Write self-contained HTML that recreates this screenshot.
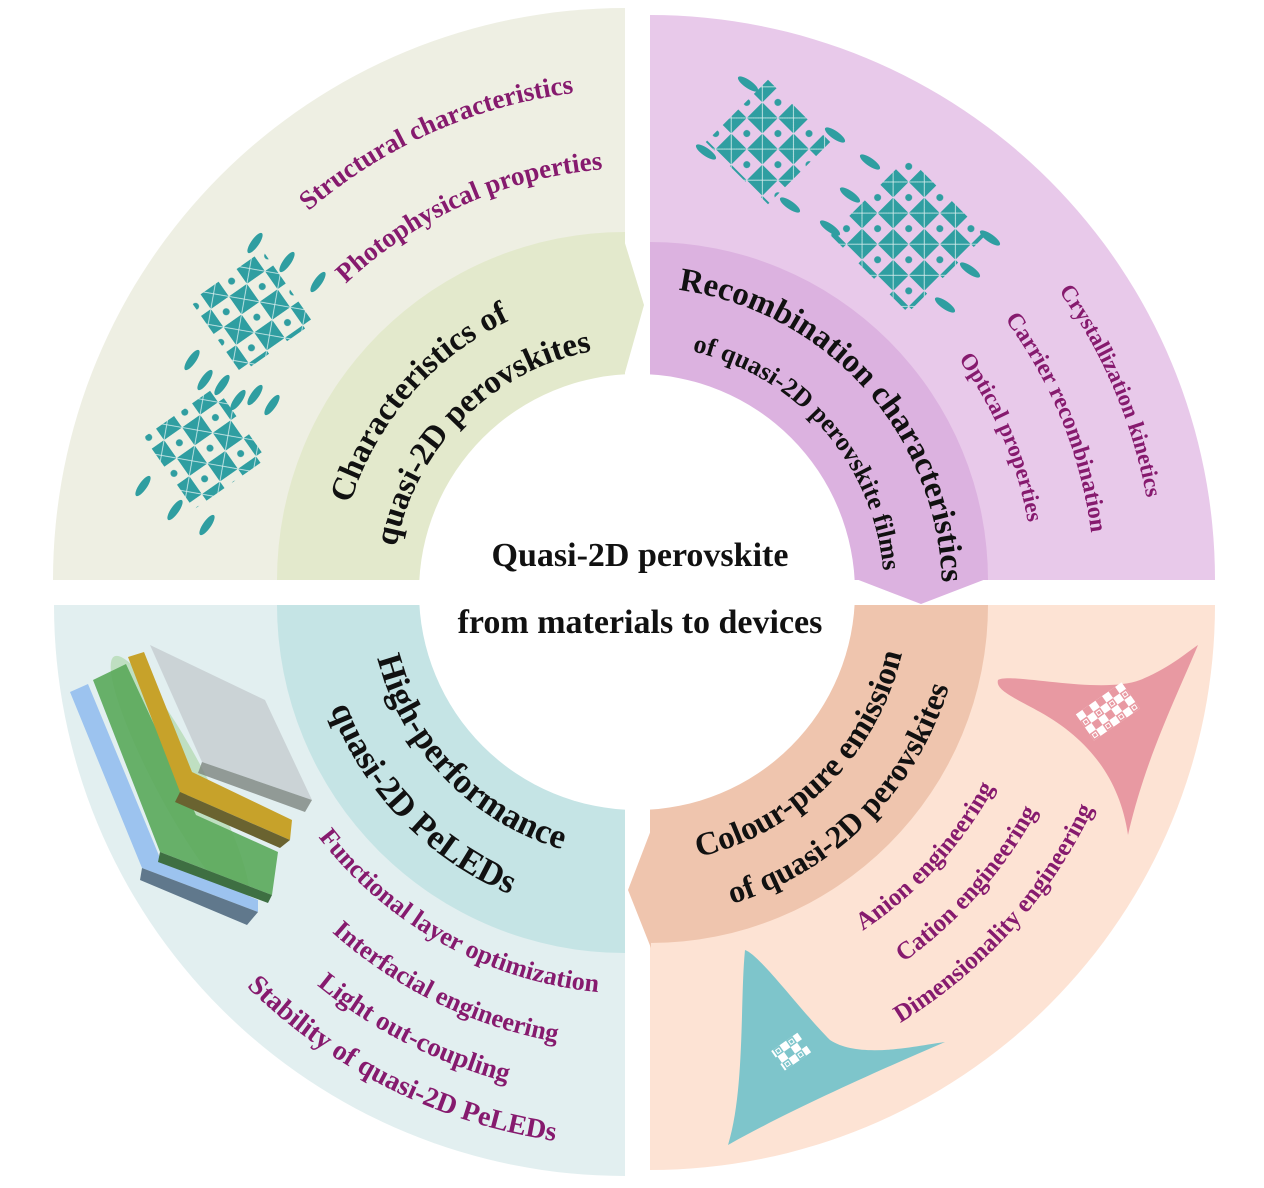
<!DOCTYPE html>
<html><head><meta charset="utf-8"><style>
html,body{margin:0;padding:0;background:#fff;}
svg{display:block;}
.k{font-family:"Liberation Serif",serif;font-weight:bold;fill:#111;}
.p{font-family:"Liberation Serif",serif;font-weight:bold;fill:#861a6e;}
</style></head><body>
<svg width="1264" height="1188" viewBox="0 0 1264 1188" xmlns="http://www.w3.org/2000/svg">
<defs>
<pattern id="pat" width="44" height="44" patternUnits="userSpaceOnUse">
 <rect x="0" y="0" width="22" height="22" fill="#2f9ea1"/>
 <rect x="22" y="22" width="22" height="22" fill="#2f9ea1"/>
 <path d="M0 0L22 22M22 0L0 22M22 22L44 44M44 22L22 44" stroke="#d8eeee" stroke-width="0.8"/>
 <circle cx="33" cy="11" r="3.5" fill="#2f9ea1"/>
 <circle cx="11" cy="33" r="3.5" fill="#2f9ea1"/>
</pattern>
<pattern id="patw" width="16" height="16" patternUnits="userSpaceOnUse">
 <rect x="0" y="0" width="8" height="8" fill="#fff"/>
 <rect x="8" y="8" width="8" height="8" fill="#fff"/>
 <rect x="10" y="2" width="4" height="4" fill="none" stroke="#fff" stroke-width="1"/>
</pattern>
<path id="c245" d="M392 592A245 245 0 1 1 882 592A245 245 0 1 1 392 592"/>
<path id="c247" d="M390 592A247 247 0 1 1 884 592A247 247 0 1 1 390 592"/>
<path id="c300" d="M337 592A300 300 0 1 1 937 592A300 300 0 1 1 337 592"/>
<path id="c305" d="M332 592A305 305 0 1 1 942 592A305 305 0 1 1 332 592"/>
<path id="c397" d="M240 592A397 397 0 1 1 1034 592A397 397 0 1 1 240 592"/>
<path id="c424" d="M213 592A424 424 0 1 1 1061 592A424 424 0 1 1 213 592"/>
<path id="c458" d="M179 592A458 458 0 1 1 1095 592A458 458 0 1 1 179 592"/>
<path id="c503" d="M134 592A503 503 0 1 1 1140 592A503 503 0 1 1 134 592"/>
<path id="c518" d="M119 592A518 518 0 1 1 1155 592A518 518 0 1 1 119 592"/>
<path id="d268" d="M369 592A268 268 0 1 0 905 592A268 268 0 1 0 369 592"/>
<path id="d272" d="M365 592A272 272 0 1 0 909 592A272 272 0 1 0 365 592"/>
<path id="d326" d="M311 592A326 326 0 1 0 963 592A326 326 0 1 0 311 592"/>
<path id="d328" d="M309 592A328 328 0 1 0 965 592A328 328 0 1 0 309 592"/>
<path id="d402" d="M235 592A402 402 0 1 0 1039 592A402 402 0 1 0 235 592"/>
<path id="d407" d="M230 592A407 407 0 1 0 1044 592A407 407 0 1 0 230 592"/>
<path id="d456" d="M181 592A456 456 0 1 0 1093 592A456 456 0 1 0 181 592"/>
<path id="d457" d="M180 592A457 457 0 1 0 1094 592A457 457 0 1 0 180 592"/>
<path id="d505" d="M132 592A505 505 0 1 0 1142 592A505 505 0 1 0 132 592"/>
<path id="d507" d="M130 592A507 507 0 1 0 1144 592A507 507 0 1 0 130 592"/>
<path id="d555" d="M82 592A555 555 0 1 0 1192 592A555 555 0 1 0 82 592"/>
</defs>

<path d="M625 580L53 580A572 572 0 0 1 625 8Z" fill="#eeefe3"/>
<path d="M650 580L650 15A565 565 0 0 1 1215 580Z" fill="#e8c9ea"/>
<path d="M625 605L625 1176A571 571 0 0 1 54 605Z" fill="#e2eff0"/>
<path d="M650 605L1215 605A565 565 0 0 1 650 1170Z" fill="#fde3d4"/>

<path d="M625 580L277 580A348 348 0 0 1 625 232Z" fill="#e3e9cc"/>
<polygon points="624,240 644,305 624,376" fill="#e3e9cc"/>
<path d="M650 580L650 242A338 338 0 0 1 988 580Z" fill="#dcb2e0"/>
<polygon points="856,579 986,579 921,604" fill="#dcb2e0"/>
<path d="M625 605L625 953A348 348 0 0 1 277 605Z" fill="#c5e4e5"/>
<path d="M650 605L988 605A338 338 0 0 1 650 943Z" fill="#efc5ae"/>
<polygon points="651,830 628,890 651,948" fill="#efc5ae"/>

<circle cx="637" cy="592" r="218" fill="#fff"/>
<text class="k" x="640" y="566" font-size="34" text-anchor="middle">Quasi-2D perovskite</text>
<text class="k" x="640" y="633" font-size="34" text-anchor="middle">from materials to devices</text>

<g transform="rotate(-35 252 312)"><rect x="208" y="268" width="88" height="88" fill="url(#pat)"/></g>
<g transform="rotate(-35 205 448)"><rect x="161" y="404" width="88" height="88" fill="url(#pat)"/></g>
<g fill="#2f9ea1">
<ellipse cx="255" cy="243" rx="4" ry="12" transform="rotate(35 255 243)"/>
<ellipse cx="287" cy="262" rx="4" ry="12" transform="rotate(35 287 262)"/>
<ellipse cx="318" cy="282" rx="4" ry="12" transform="rotate(35 318 282)"/>
<ellipse cx="192" cy="360" rx="4" ry="12" transform="rotate(35 192 360)"/>
<ellipse cx="205" cy="380" rx="4" ry="12" transform="rotate(35 205 380)"/>
<ellipse cx="222" cy="385" rx="4" ry="12" transform="rotate(35 222 385)"/>
<ellipse cx="238" cy="400" rx="4" ry="12" transform="rotate(35 238 400)"/>
<ellipse cx="255" cy="395" rx="4" ry="12" transform="rotate(35 255 395)"/>
<ellipse cx="272" cy="405" rx="4" ry="12" transform="rotate(35 272 405)"/>
<ellipse cx="143" cy="486" rx="4" ry="12" transform="rotate(35 143 486)"/>
<ellipse cx="175" cy="510" rx="4" ry="12" transform="rotate(35 175 510)"/>
<ellipse cx="207" cy="525" rx="4" ry="12" transform="rotate(35 207 525)"/>
</g>

<g transform="rotate(-45 768 142)"><rect x="724" y="98" width="88" height="88" fill="url(#pat)"/></g>
<g transform="rotate(-45 908 235)"><rect x="853" y="180" width="110" height="110" fill="url(#pat)"/></g>
<g fill="#2f9ea1">
<ellipse cx="748" cy="84" rx="12" ry="4" transform="rotate(35 748 84)"/>
<ellipse cx="706" cy="152" rx="12" ry="4" transform="rotate(35 706 152)"/>
<ellipse cx="835" cy="135" rx="12" ry="4" transform="rotate(35 835 135)"/>
<ellipse cx="870" cy="162" rx="12" ry="4" transform="rotate(35 870 162)"/>
<ellipse cx="790" cy="205" rx="12" ry="4" transform="rotate(35 790 205)"/>
<ellipse cx="830" cy="228" rx="12" ry="4" transform="rotate(35 830 228)"/>
<ellipse cx="850" cy="195" rx="12" ry="4" transform="rotate(35 850 195)"/>
<ellipse cx="990" cy="238" rx="12" ry="4" transform="rotate(35 990 238)"/>
<ellipse cx="970" cy="270" rx="12" ry="4" transform="rotate(35 970 270)"/>
<ellipse cx="945" cy="305" rx="12" ry="4" transform="rotate(35 945 305)"/>
</g>

<ellipse cx="180" cy="780" rx="25" ry="140" fill="#7fc46b" opacity="0.35" transform="rotate(-28 180 780)"/>
<polygon points="70,692 88,684 160,858 258,900 258,912 142,868" fill="#9cc3ef"/>
<polygon points="142,868 258,912 247,925 140,880" fill="#60788c"/>
<polygon points="93,680 126,664 196,815 278,852 272,895 160,852" fill="#5aa85a" opacity="0.9"/>
<polygon points="160,852 272,895 268,903 158,862" fill="#3e6f42"/>
<polygon points="128,657 144,652 192,772 292,820 290,840 180,792" fill="#c7a22a"/>
<polygon points="180,792 290,840 280,848 175,802" fill="#6a6330"/>
<polygon points="150,645 265,700 312,800 202,762" fill="#c3c9cd" opacity="0.75"/>
<polygon points="202,762 312,800 305,812 198,773" fill="#7d8580" opacity="0.8"/>

<path d="M998 680C1010 672 1100 695 1140 680C1170 668 1190 650 1198 645C1175 700 1145 760 1128 835C1120 780 1090 740 1040 712C1015 698 995 690 998 680Z" fill="#e899a2"/>
<g transform="rotate(-35 1107 712)"><rect x="1080" y="696" width="56" height="32" fill="url(#patw)"/></g>
<path d="M745 950C760 955 800 1010 830 1040C860 1060 920 1045 945 1042C880 1070 790 1110 728 1145C745 1090 740 1000 745 950Z" fill="#7ec5cb"/>
<g transform="rotate(-35 790 1050)"><rect x="774" y="1040" width="32" height="24" fill="url(#patw)"/></g>

<g transform="rotate(-49 637 592)"><text class="k" font-size="33"><textPath href="#c300" startOffset="25%" text-anchor="middle">Characteristics of</textPath></text></g>
<g transform="rotate(-45 637 592)"><text class="k" font-size="33"><textPath href="#c245" startOffset="25%" text-anchor="middle">quasi-2D perovskites</textPath></text></g>
<g transform="rotate(-24 637 592)"><text class="p" font-size="27"><textPath href="#c503" startOffset="25%" text-anchor="middle">Structural characteristics</textPath></text></g>
<g transform="rotate(-24 637 592)"><text class="p" font-size="27"><textPath href="#c424" startOffset="25%" text-anchor="middle">Photophysical properties</textPath></text></g>

<g transform="rotate(48 637 592)"><text class="k" font-size="33"><textPath href="#c305" startOffset="25%" text-anchor="middle">Recombination characteristics</textPath></text></g>
<g transform="rotate(49 637 592)"><text class="k" font-size="26"><textPath href="#c247" startOffset="25%" text-anchor="middle">of quasi-2D perovskite films</textPath></text></g>
<g transform="rotate(67 637 592)"><text class="p" font-size="23"><textPath href="#c518" startOffset="25%" text-anchor="middle">Crystallization kinetics</textPath></text></g>
<g transform="rotate(68 637 592)"><text class="p" font-size="24"><textPath href="#c458" startOffset="25%" text-anchor="middle">Carrier recombination</textPath></text></g>
<g transform="rotate(67 637 592)"><text class="p" font-size="23"><textPath href="#c397" startOffset="25%" text-anchor="middle">Optical properties</textPath></text></g>

<g transform="rotate(46 637 592)"><text class="k" font-size="35"><textPath href="#d268" startOffset="25%" text-anchor="middle">High-performance</textPath></text></g>
<g transform="rotate(46 637 592)"><text class="k" font-size="35"><textPath href="#d328" startOffset="25%" text-anchor="middle">quasi-2D PeLEDs</textPath></text></g>
<g transform="rotate(29 637 592)"><text class="p" font-size="26"><textPath href="#d402" startOffset="25%" text-anchor="middle">Functional layer optimization</textPath></text></g>
<g transform="rotate(26 637 592)"><text class="p" font-size="26"><textPath href="#d457" startOffset="25%" text-anchor="middle">Interfacial engineering</textPath></text></g>
<g transform="rotate(27 637 592)"><text class="p" font-size="27"><textPath href="#d507" startOffset="25%" text-anchor="middle">Light out-coupling</textPath></text></g>
<g transform="rotate(26.6 637 592)"><text class="p" font-size="28"><textPath href="#d555" startOffset="25%" text-anchor="middle">Stability of quasi-2D PeLEDs</textPath></text></g>

<g transform="rotate(-45 637 592)"><text class="k" font-size="33"><textPath href="#d272" startOffset="25%" text-anchor="middle">Colour-pure emission</textPath></text></g>
<g transform="rotate(-45 637 592)"><text class="k" font-size="32"><textPath href="#d326" startOffset="25%" text-anchor="middle">of quasi-2D perovskites</textPath></text></g>
<g transform="rotate(-47.5 637 592)"><text class="p" font-size="25"><textPath href="#d407" startOffset="25%" text-anchor="middle">Anion engineering</textPath></text></g>
<g transform="rotate(-48.5 637 592)"><text class="p" font-size="25"><textPath href="#d456" startOffset="25%" text-anchor="middle">Cation engineering</textPath></text></g>
<g transform="rotate(-48 637 592)"><text class="p" font-size="25"><textPath href="#d505" startOffset="25%" text-anchor="middle">Dimensionality engineering</textPath></text></g>
</svg>
</body></html>
